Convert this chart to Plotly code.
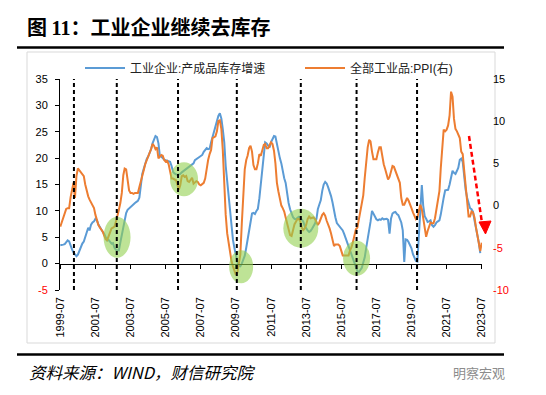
import pandas as pd
import plotly.graph_objects as go

# ---------------- data ----------------
start_month = "1999-07-01"

inventory_growth = [  # 工业企业:产成品库存增速 (left axis, %), monthly from 1999-07
    3.5, 3.5, 3.6, 3.7, 4.2, 4.4, 4.2, 3.3, 2.7, 2.1,
    1.7, 1.4, 1.7, 2.5, 3.2, 3.8, 4.2, 5.0, 6.2, 6.8,
    6.3, 7.4, 7.8, 8.0, 8.5, 8.2, 7.4, 6.9, 6.3, 6.0,
    5.6, 4.9, 4.4, 4.5, 4.1, 3.8, 3.9, 3.0, 2.6, 2.5,
    2.5, 4.0, 5.5, 7.2, 8.4, 9.6, 10.2, 10.5, 10.8, 11.0,
    11.2, 11.5, 11.7, 11.9, 12.5, 15.0, 17.0, 18.0, 19.0, 19.8,
    20.3, 21.0, 21.7, 22.8, 23.6, 24.2, 24.0, 22.8, 20.5, 20.3,
    20.0, 19.7, 19.6, 19.6, 19.4, 19.3, 18.5, 17.4, 17.1, 16.9,
    16.8, 16.9, 17.0, 17.3, 17.5, 17.7, 17.9, 18.1, 18.4, 18.6,
    18.8, 19.0, 19.6, 19.8, 20.1, 20.3, 20.4, 20.6, 21.2, 21.6,
    21.9, 21.7, 21.8, 23.0, 24.0, 25.0, 26.2, 27.3, 28.0, 28.5,
    27.5, 25.5, 23.0, 18.5, 15.5, 12.5, 9.2, 7.0, 4.5, 2.9,
    1.5, 0.3, -0.4, -0.5, 0.0, 0.6, 1.5, 3.0, 4.5, 6.5,
    8.2, 9.5, 9.6, 9.4, 10.0, 10.4, 12.4, 15.0, 18.5, 21.5,
    23.0, 22.8, 22.5, 22.0, 23.0, 23.5, 24.2, 24.1, 22.5, 21.2,
    20.0, 19.0, 17.4, 16.2, 15.3, 13.0, 11.5, 10.3, 9.4, 8.8,
    8.5, 8.4, 8.7, 8.9, 8.7, 8.4, 8.0, 7.1, 6.6, 6.3,
    6.0, 6.2, 6.6, 7.0, 7.6, 8.5, 10.3, 11.2, 12.0, 13.8,
    15.0, 15.5, 15.2, 14.5, 13.8, 12.8, 11.6, 9.8, 8.8, 7.7,
    7.4, 7.1, 6.8, 6.3, 5.6, 4.8, 4.2, 3.2, 2.5, 1.7,
    0.8, 0.0, -0.8, -1.4, -1.6, -1.3, -0.8, 0.2, 1.2, 3.0,
    4.5, 6.5, 7.9, 10.0, 9.5, 9.0, 8.4, 8.2, 8.4, 8.3,
    8.6, 8.4, 8.5, 8.5, 8.3, 5.7, 8.5, 9.5, 9.7, 9.8,
    9.4, 9.2, 8.5, 7.8, 6.3, 0.3, 4.6, 4.5, 4.1, 3.5,
    2.9, 1.8, 1.0, 0.5, 0.4, 5.7, 10.5, 14.9, 11.0, 9.0,
    8.5, 7.9, 8.0, 8.2, 7.3, 7.0, 7.3, 7.8, 8.0, 8.2,
    9.3, 10.6, 12.5, 13.9, 13.9, 14.0, 15.0, 16.5, 17.6, 17.2,
    17.0, 17.6, 18.2, 19.7, 19.9, 19.3, 16.2, 14.0, 12.5, 11.6,
    10.5, 10.3, 9.8, 8.2, 7.0, 5.5, 4.0, 2.0,
]

ppi = [  # 全部工业品:PPI (right axis, %), monthly from 1999-07
    -2.5, -2.0, -1.5, -0.8, -0.4, -0.3, -0.3, 1.0, 1.7, 2.7,
    0.9, 3.5, 4.4, 4.2, 4.0, 3.8, 3.5, 2.5, 1.7, 1.1,
    0.7, 0.4, 0.0, -0.3, -1.1, -1.9, -2.3, -2.6, -2.8, -3.1,
    -3.6, -4.0, -4.1, -3.6, -3.2, -2.7, -2.6, -2.5, -1.9, -1.3,
    -0.5, 0.3, 1.5, 3.6, 4.4, 4.3, 3.0, 1.8, 1.5, 1.5,
    1.4, 1.5, 1.5, 1.5, 2.2, 2.8, 3.4, 4.2, 4.9, 5.3,
    5.9, 6.3, 6.7, 7.3, 7.1, 6.7,
    6.9, 5.6, 5.8, 6.0, 5.9, 5.4, 5.2, 5.3, 4.9, 4.0, 3.2, 3.2,
    3.1, 3.0, 2.5, 1.9, 2.4, 3.5, 3.6, 3.4, 3.5, 2.9, 2.8, 3.1,
    3.3, 2.6, 2.7, 2.9, 2.8, 2.5, 2.4, 2.6, 2.7, 3.2, 4.6, 5.4,
    6.1, 6.6, 8.0, 8.1, 8.2, 8.8, 10.0, 10.1, 9.1, 6.6, 2.0, -1.1,
    -3.3, -4.5, -6.0, -6.6, -7.2, -7.8, -8.2, -7.9, -7.0, -5.8, -2.1, 1.7,
    4.3, 5.4, 5.9, 6.8, 7.1, 6.4, 4.8, 4.3, 4.3, 5.0, 6.1, 5.9,
    6.6, 7.2, 7.3, 6.8, 6.8, 7.1, 7.5, 7.3, 6.5, 5.0, 2.7, 1.7,
    0.7, 0.0, -0.3, -0.7, -1.4, -2.1, -2.9, -3.5, -3.6, -2.8, -2.2, -1.9,
    -1.6, -1.6, -1.9, -2.6, -2.9, -2.7, -2.3, -1.6, -1.3, -1.5, -1.4, -1.4,
    -1.6, -2.0, -2.3, -2.0, -1.4, -1.1, -0.9, -1.2, -1.8, -2.2, -2.7, -3.3,
    -4.3, -4.8, -4.6, -4.6, -4.6, -4.8, -5.4, -5.9, -5.9, -5.9, -5.9, -5.9,
    -5.3, -4.9, -4.3, -3.4, -2.8, -2.6, -1.7, -0.8, 0.1, 1.2, 3.3, 5.5,
    6.9, 7.8, 7.6, 6.4, 5.5, 5.5, 5.5, 6.3, 6.9, 6.9, 5.8, 4.9,
    4.3, 3.7, 3.1, 3.4, 4.1, 4.7, 4.6, 4.1, 3.6, 3.3, 2.7, 0.9,
    0.1, 0.1, 0.4, 0.9, 0.6, 0.0, -0.3, -0.8, -1.2, -1.6, -1.4, -0.5,
    0.1, -0.4, -1.5, -3.1, -3.7, -3.0, -2.4, -2.0, -2.1, -2.1, -1.5, -0.4,
    0.3, 1.7, 4.4, 6.8, 9.0, 8.8, 9.0, 9.5, 10.7, 13.5, 12.9, 10.3,
    9.1, 8.8, 8.3, 8.0, 6.4, 6.1, 4.2, 2.3, 0.9, -1.3, -1.3, -0.7,
    -0.8, -1.4, -2.5, -3.6, -4.6, -5.4, -4.4,
]

series_names = ["工业企业:产成品库存增速", "全部工业品:PPI(右)"]
left_ticks = [-5, 0, 5, 10, 15, 20, 25, 30, 35]
right_ticks = [-10, -5, 0, 5, 10, 15]
tick_step_months = 24

# turning points marked with dashed lines
marker_dates = ["2000-04-10", "2002-09-18", "2006-03-15", "2009-07-20",
                "2013-03-12", "2016-05-15", "2019-10-25"]
# highlighted zones (date, left-axis value)
highlight_dates = ["2002-09-24", "2006-07-18", "2009-10-18", "2013-03-12", "2016-05-15"]
highlight_values = [5.0, 16.0, -0.6, 6.7, 1.0]

title_text = "图 <span style='font-family:Liberation Serif'>11</span>：工业企业继续去库存"
source_text = "资料来源：WIND，财信研究院"
watermark_text = "明察宏观"

# ---------------- layout helpers ----------------
PAGE = 8                      # default body margin of the page
W, H = 546 - PAGE, 395 - PAGE
L, R, T, B = 60 - PAGE, 64, 79 - PAGE, 105
PW, PH = W - L - R, H - T - B


def px2x(px):
    """page pixel x -> paper coordinate"""
    return (px - PAGE - L) / PW


def py2y(py):
    """page pixel y -> paper coordinate"""
    return (H - B - (py - PAGE)) / PH


dates_ppi = pd.date_range(start_month, periods=len(ppi), freq="MS")
dates_inv = dates_ppi[: len(inventory_growth)]
tick_dates = dates_ppi[::tick_step_months]
tick_labels = [d.strftime("%Y-%m") for d in tick_dates]
x_range = [dates_ppi[0] - pd.Timedelta(days=6), dates_ppi[-1] + pd.Timedelta(days=6)]

BLUE = "#5B9BD5"
ORANGE = "#ED7D31"
TICK_FONT = dict(family="Liberation Sans, Arial, sans-serif", size=11, color="black")
CJK = "Noto Sans CJK SC, sans-serif"
LEG_FONT = dict(family="Liberation Sans, " + CJK, size=12, color="#222")


def red_neg(v):
    return f"<span style='color:#FF0000'>{v}</span>" if v < 0 else str(v)


fig = go.Figure()
fig.add_trace(go.Scatter(x=dates_inv, y=inventory_growth, name=series_names[0],
                         mode="lines", line=dict(color=BLUE, width=2), yaxis="y",
                         legend="legend"))
fig.add_trace(go.Scatter(x=dates_ppi, y=ppi, name=series_names[1],
                         mode="lines", line=dict(color=ORANGE, width=2), yaxis="y2",
                         legend="legend2"))
# carrier for the zero-crossing category axis
fig.add_trace(go.Scatter(x=dates_ppi[:1], y=[None], xaxis="x2", yaxis="y",
                         mode="lines", showlegend=False, hoverinfo="skip"))

zero_frac = (0 - left_ticks[0]) / (left_ticks[-1] - left_ticks[0])

shapes = []
# outer light frame
shapes.append(dict(type="rect", xref="paper", yref="paper",
                   x0=px2x(27), x1=px2x(495), y0=py2y(343), y1=py2y(52),
                   line=dict(color="#D9D9D9", width=1), layer="below"))
# title rule and bottom rule
shapes.append(dict(type="line", xref="paper", yref="paper",
                   x0=px2x(17), x1=px2x(504), y0=py2y(47.5), y1=py2y(47.5),
                   line=dict(color="black", width=2.5)))
shapes.append(dict(type="line", xref="paper", yref="paper",
                   x0=px2x(17), x1=px2x(504), y0=py2y(354.5), y1=py2y(354.5),
                   line=dict(color="black", width=2.5)))
# green highlight ellipses
sizes = [(27, 41), (28, 34), (24, 33), (35, 39), (27, 35)]
for d, v, (w, h) in zip(highlight_dates, highlight_values, sizes):
    shapes.append(dict(type="circle", xref="x", yref="y", xsizemode="pixel", ysizemode="pixel",
                       xanchor=d, yanchor=v, x0=-w / 2, x1=w / 2, y0=-h / 2, y1=h / 2,
                       fillcolor="rgba(146,208,80,0.6)", line=dict(width=0), layer="above"))
# vertical dashed lines
for d in marker_dates:
    shapes.append(dict(type="line", xref="x", yref="paper", x0=d, x1=d, y0=0, y1=1,
                       line=dict(color="black", width=2, dash="4px,3px"), layer="above"))
# red dashed arrow
shapes.append(dict(type="line", xref="paper", yref="paper",
                   x0=px2x(469), y0=py2y(136), x1=px2x(482), y1=py2y(223),
                   line=dict(color="#FF0000", width=2.5, dash="5px,3px")))
tri = [(px2x(485.5), py2y(234)), (px2x(479), py2y(222)), (px2x(491), py2y(221))]
shapes.append(dict(type="path", xref="paper", yref="paper",
                   path="M {} {} L {} {} L {} {} Z".format(tri[0][0], tri[0][1], tri[1][0], tri[1][1],
                                                          tri[2][0], tri[2][1]),
                   fillcolor="#FF0000", line=dict(color="#FF0000", width=1)))

annotations = [
    dict(text="<b>" + title_text + "</b>", xref="paper", yref="paper", x=px2x(25), y=py2y(27),
         xanchor="left", yanchor="middle", showarrow=False,
         font=dict(family=CJK, size=20, color="black")),
    dict(text="<i>" + source_text + "</i>", xref="paper", yref="paper", x=px2x(27), y=py2y(372),
         xanchor="left", yanchor="middle", showarrow=False,
         font=dict(family=CJK, size=16.5, color="black")),
    dict(text=watermark_text, xref="paper", yref="paper", x=px2x(507), y=py2y(372),
         xanchor="right", yanchor="middle", showarrow=False,
         font=dict(family=CJK, size=13, color="#8C8C8C")),
]

legend_common = dict(orientation="h", xanchor="left", yanchor="middle", itemwidth=40,
                     font=LEG_FONT, bgcolor="rgba(0,0,0,0)", borderwidth=0)

fig.update_layout(
    width=W, height=H,
    margin=dict(l=L, r=R, t=T, b=B, autoexpand=False),
    paper_bgcolor="white", plot_bgcolor="white",
    showlegend=True,
    legend=dict(x=px2x(80), y=py2y(68), **legend_common),
    legend2=dict(x=px2x(300), y=py2y(68), **legend_common),
    xaxis=dict(type="date", range=x_range, tickvals=tick_dates, ticktext=tick_labels,
               tickangle=-90, showline=False, ticks="", showgrid=False, zeroline=False,
               tickfont=TICK_FONT, ticklabelstandoff=4),
    xaxis2=dict(type="date", range=x_range, overlaying="x", anchor="free", position=zero_frac,
                showline=True, linecolor="black", linewidth=1, ticks="outside", ticklen=4,
                tickcolor="black", tickvals=tick_dates, showticklabels=False,
                showgrid=False, zeroline=False),
    yaxis=dict(range=[left_ticks[0], left_ticks[-1]], tickvals=left_ticks,
               ticktext=[red_neg(v) for v in left_ticks], showline=True, linecolor="black",
               linewidth=1, ticks="outside", ticklen=4, tickcolor="black", showgrid=False,
               zeroline=False, tickfont=TICK_FONT, ticklabelstandoff=5),
    yaxis2=dict(range=[right_ticks[0], right_ticks[-1]], tickvals=right_ticks,
                ticktext=[red_neg(v) for v in right_ticks], overlaying="y", side="right",
                showline=False, ticks="", showgrid=False, zeroline=False, tickfont=TICK_FONT,
                ticklabelstandoff=10),
    shapes=shapes,
    annotations=annotations,
)

fig.write_html("out.html")
